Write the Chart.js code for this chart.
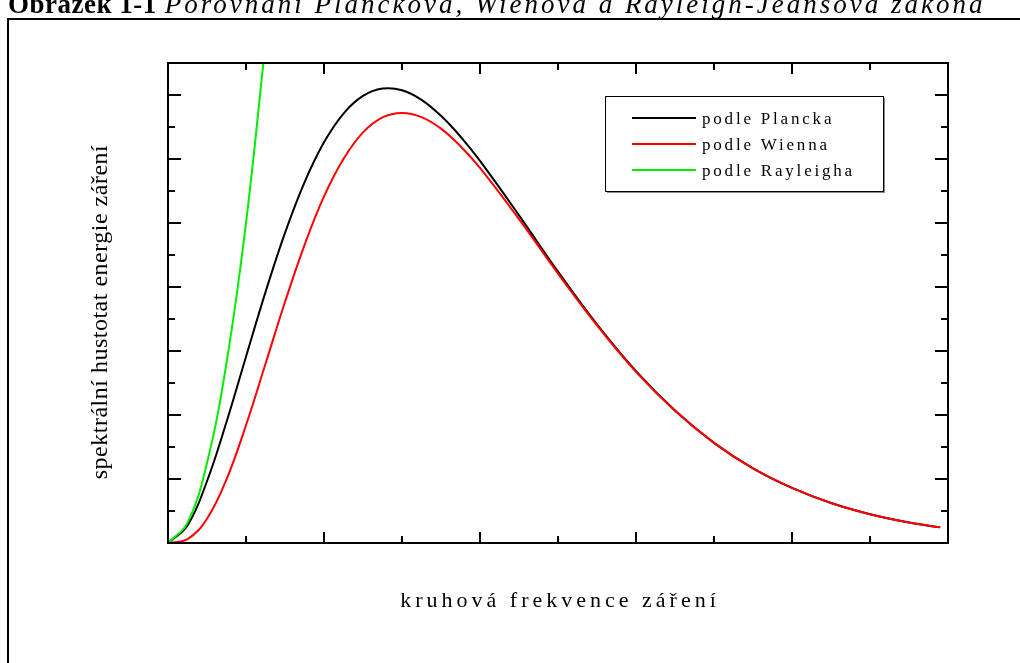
<!DOCTYPE html>
<html lang="cs">
<head>
<meta charset="utf-8">
<title>Porovnání Planckova, Wienova a Rayleigh-Jeansova zákona</title>
<script src="https://cdn.jsdelivr.net/npm/chart.js@4.4.1/dist/chart.umd.min.js"></script>
<style>
    html, body { margin: 0; padding: 0; background: #ffffff; }
    #wrap { position: relative; width: 1020px; height: 663px; overflow: hidden; }
</style>
</head>
<body>
<div id="wrap"><canvas id="spectrumChart" width="1020" height="663"></canvas></div>
<script>
// values (x in minor tick units, y in minor tick units)
const freq = [0, 0.25, 0.5, 0.75, 1, 1.25, 1.5, 1.75, 2, 2.25, 2.5, 2.75, 3, 3.25, 3.5, 3.75, 4, 4.5, 5, 5.5, 6, 6.5, 7, 7.5, 8, 8.5, 9, 9.5, 9.9];
const planck = [0, 0.55, 1.93, 3.78, 5.82, 7.84, 9.69, 11.27, 12.52, 13.42, 13.97, 14.2, 14.15, 13.85, 13.35, 12.7, 11.94, 10.24, 8.48, 6.83, 5.37, 4.14, 3.13, 2.33, 1.72, 1.25, 0.9, 0.64, 0.49];
const wien = [0, 0.12, 0.76, 1.99, 3.68, 5.6, 7.53, 9.31, 10.83, 12.0, 12.83, 13.3, 13.44, 13.31, 12.95, 12.4, 11.72, 10.12, 8.42, 6.8, 5.35, 4.13, 3.13, 2.33, 1.72, 1.25, 0.9, 0.64, 0.49];
const rayleighFreq = [0, 0.25, 0.5, 0.75, 1, 1.25];
const rayleigh = [0, 0.63, 2.5, 5.63, 10, 15.63];

const xTicks = [0, 1, 2, 3, 4, 5, 6, 7, 8, 9, 10];
const yTicks = [0, 1, 2, 3, 4, 5, 6, 7, 8, 9, 10, 11, 12, 13, 14, 15];

const seriesNames = ['podle Plancka', 'podle Wienna', 'podle Rayleigha'];
const seriesColors = ['#000000', '#ff0000', '#00ee00'];

const xTitle = 'kruhová frekvence záření';
const yTitle = 'spektrální hustotat energie záření';
const figLabel = 'Obrázek 1-1';
const figCaption = 'Porovnání Planckova, Wienova a Rayleigh-Jeansova zákona';

const SERIF = '"Liberation Serif", "DejaVu Serif", serif';

const toPoints = (xs, ys) => xs.map((x, i) => ({ x: x, y: ys[i] }));

// outer frame and the cut-off caption above it
const pageFrame = {
    id: 'pageFrame',
    beforeDraw(chart) {
        const ctx = chart.ctx;
        ctx.save();
        ctx.fillStyle = '#000';
        ctx.textBaseline = 'alphabetic';
        ctx.letterSpacing = '0.5px';
        ctx.font = 'bold 27px ' + SERIF;
        ctx.fillText(figLabel, 8, 13);
        const w = ctx.measureText(figLabel).width;
        ctx.letterSpacing = '3px';
        ctx.font = 'italic 27px ' + SERIF;
        ctx.fillText(figCaption, 8 + w + 8, 13);

        ctx.strokeStyle = '#000';
        ctx.lineWidth = 2;
        ctx.beginPath();
        ctx.moveTo(8, 700);
        ctx.lineTo(8, 19);
        ctx.lineTo(1030, 19);
        ctx.stroke();
        ctx.restore();
    }
};

// box around the plot with inward ticks on all four sides
const plotFrame = {
    id: 'plotFrame',
    afterDatasetsDraw(chart) {
        const { ctx, chartArea: a, scales: { x, y } } = chart;
        ctx.save();
        ctx.strokeStyle = '#000';
        ctx.lineWidth = 2;
        ctx.strokeRect(a.left, a.top, a.right - a.left, a.bottom - a.top);

        ctx.beginPath();
        xTicks.forEach(v => {
            const px = Math.round(x.getPixelForValue(v));
            const len = v % 2 === 0 ? 11 : 7;
            ctx.moveTo(px, a.bottom); ctx.lineTo(px, a.bottom - len);
            ctx.moveTo(px, a.top); ctx.lineTo(px, a.top + len);
        });
        yTicks.forEach(v => {
            const py = Math.round(y.getPixelForValue(v));
            const len = v % 2 === 0 ? 13 : 7;
            ctx.moveTo(a.left, py); ctx.lineTo(a.left + len, py);
            ctx.moveTo(a.right, py); ctx.lineTo(a.right - len, py);
        });
        ctx.stroke();
        ctx.restore();
    },
    afterDraw(chart) {
        const { ctx, chartArea: a } = chart;
        ctx.save();
        ctx.fillStyle = '#000';

        // x axis title, spaced out
        ctx.font = '22px ' + SERIF;
        ctx.letterSpacing = '4px';
        ctx.textAlign = 'center';
        ctx.textBaseline = 'alphabetic';
        ctx.fillText(xTitle, (a.left + a.right) / 2 + 2, 607);

        // y axis title
        ctx.letterSpacing = '0.5px';
        ctx.font = '24px ' + SERIF;
        ctx.translate(107, (a.top + a.bottom) / 2 + 9);
        ctx.rotate(-Math.PI / 2);
        ctx.fillText(yTitle, 0, 0);
        ctx.restore();
    }
};

// legend box inside the plot
const boxLegend = {
    id: 'boxLegend',
    afterDraw(chart) {
        const ctx = chart.ctx;
        const left = 605, top = 96, width = 278, height = 95;
        ctx.save();
        ctx.fillStyle = '#ffffff';
        ctx.fillRect(left, top, width, height);
        ctx.strokeStyle = '#888';
        ctx.lineWidth = 2;
        ctx.beginPath();
        ctx.moveTo(left + 2, top + height + 1);
        ctx.lineTo(left + width + 1, top + height + 1);
        ctx.lineTo(left + width + 1, top + 2);
        ctx.stroke();
        ctx.strokeStyle = '#000';
        ctx.lineWidth = 1;
        ctx.strokeRect(left + 0.5, top + 0.5, width, height);

        ctx.font = '17px ' + SERIF;
        ctx.letterSpacing = '2.8px';
        ctx.textBaseline = 'alphabetic';
        chart.data.datasets.forEach((ds, i) => {
            const yy = top + 22 + i * 26;
            ctx.strokeStyle = ds.borderColor;
            ctx.lineWidth = 2;
            ctx.beginPath();
            ctx.moveTo(left + 27, yy);
            ctx.lineTo(left + 91, yy);
            ctx.stroke();
            ctx.fillStyle = '#000';
            ctx.fillText(ds.label, left + 97, yy + 6);
        });
        ctx.restore();
    }
};

class SpectrumChart {
    constructor() {
        this.chart = null;
        this.init();
    }

    init() {
        const ctx = document.getElementById('spectrumChart');
        const series = [
            toPoints(freq, planck),
            toPoints(freq, wien),
            toPoints(rayleighFreq, rayleigh)
        ];
        const drawOrder = [2, 1, 0];

        this.chart = new Chart(ctx, {
            type: 'line',
            data: {
                datasets: series.map((pts, i) => ({
                    label: seriesNames[i],
                    data: pts,
                    borderColor: seriesColors[i],
                    backgroundColor: seriesColors[i],
                    borderWidth: 2,
                    pointRadius: 0,
                    fill: false,
                    tension: 0.4,
                    order: drawOrder[i]
                }))
            },
            options: {
                responsive: false,
                animation: false,
                devicePixelRatio: 1,
                layout: {
                    padding: { left: 168, right: 72, top: 63, bottom: 120 }
                },
                plugins: {
                    legend: { display: false },
                    tooltip: { enabled: false }
                },
                scales: {
                    x: { type: 'linear', min: 0, max: 10, display: false },
                    y: { type: 'linear', min: 0, max: 15, display: false }
                }
            },
            plugins: [pageFrame, plotFrame, boxLegend]
        });
    }
}

document.addEventListener('DOMContentLoaded', () => {
    window.spectrumChart = new SpectrumChart();
});
</script>
</body>
</html>
